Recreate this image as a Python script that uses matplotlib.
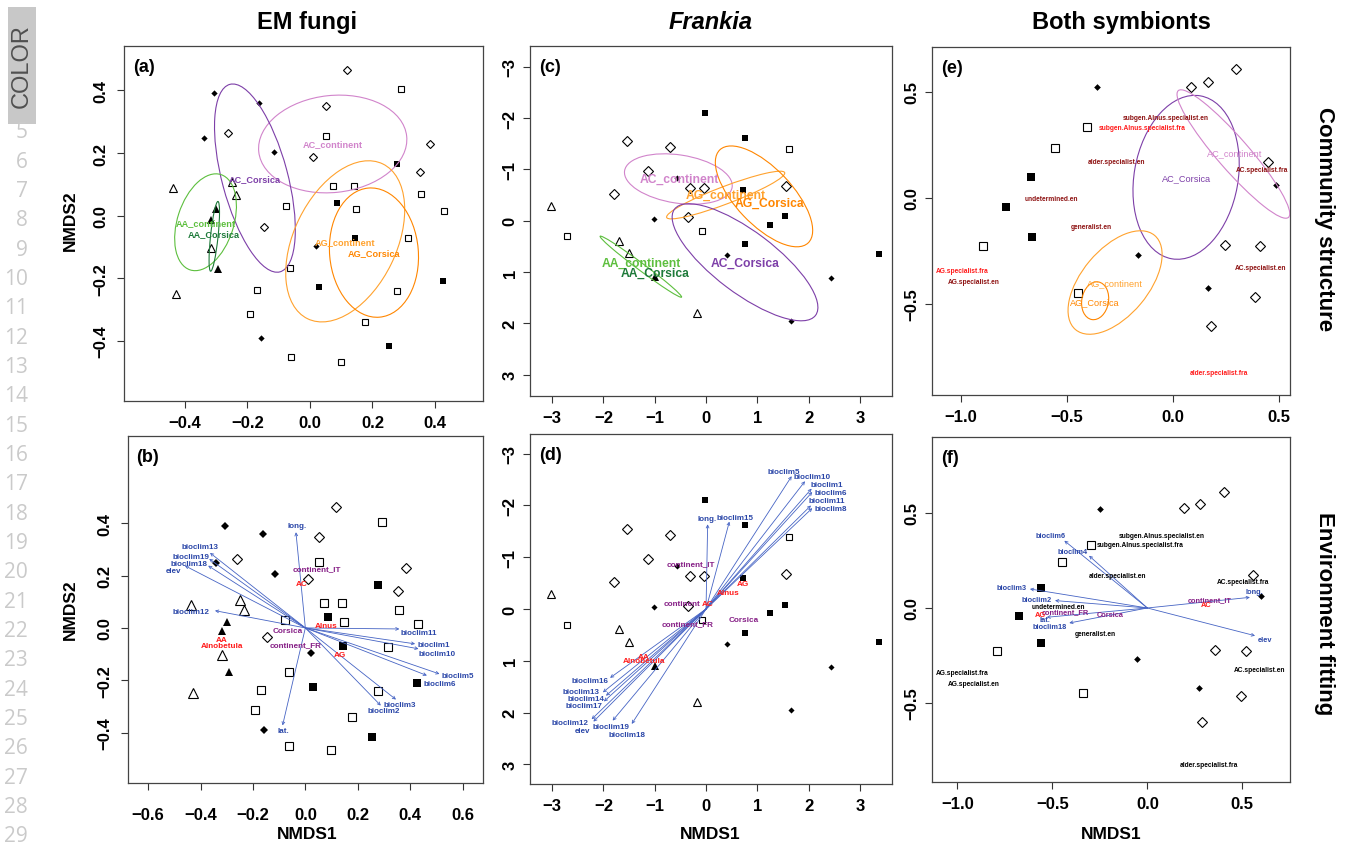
import matplotlib
matplotlib.use("Agg")
import matplotlib.pyplot as plt
from matplotlib.patches import Ellipse, Rectangle

plt.rcParams['font.family'] = ['Liberation Sans', 'DejaVu Sans']

# ---------------- DATA ----------------
# EM fungi ordination (panels a, b)
em_AA_continent = [(-0.437, 0.088), (-0.249, 0.107), (-0.235, 0.067), (-0.317, -0.103), (-0.428, -0.249)]
em_AA_Corsica = [(-0.300, 0.022), (-0.318, -0.013), (-0.293, -0.170)]
em_AC_continent = [(0.118, 0.464), (0.053, 0.349), (-0.262, 0.263), (0.011, 0.187), (0.383, 0.230),
                   (0.352, 0.140), (-0.146, -0.035)]
em_AC_Corsica = [(-0.308, 0.391), (-0.162, 0.361), (-0.340, 0.247), (-0.114, 0.205), (0.021, -0.096),
                 (-0.158, -0.390)]
em_AG_continent = [(0.293, 0.405), (0.053, 0.253), (0.073, 0.095), (0.141, 0.096), (0.357, 0.068),
                   (-0.078, 0.031), (0.146, 0.021), (0.430, 0.014), (0.315, -0.072), (-0.064, -0.168),
                   (-0.170, -0.239), (0.278, -0.242), (-0.192, -0.314), (0.177, -0.339), (-0.061, -0.451),
                   (0.098, -0.466)]
em_AG_Corsica = [(0.278, 0.164), (0.087, 0.042), (0.145, -0.070), (0.030, -0.227), (0.427, -0.209),
                 (0.254, -0.416)]
# ellipses: name, centre x, centre y, semi-major, semi-minor, angle (deg)
em_ell_names = ['AC_continent', 'AC_Corsica', 'AA_continent', 'AA_Corsica', 'AG_continent', 'AG_Corsica']
em_ell_cx = [0.073, -0.176, -0.334, -0.306, 0.113, 0.205]
em_ell_cy = [0.229, 0.120, -0.021, -0.066, -0.082, -0.118]
em_ell_a = [0.238, 0.310, 0.160, 0.112, 0.275, 0.207]
em_ell_b = [0.155, 0.105, 0.090, 0.012, 0.164, 0.142]
em_ell_ang = [6, 105, 72, 84, 64, 95]
em_lab_x = [0.073, -0.176, -0.334, -0.309, 0.113, 0.205]
em_lab_y = [0.229, 0.120, -0.021, -0.056, -0.082, -0.119]
# envfit (panel b)
em_vec_names = ['long.', 'bioclim13', 'bioclim19', 'bioclim18', 'elev', 'bioclim12', 'lat.', 'bioclim11',
                'bioclim1', 'bioclim10', 'bioclim5', 'bioclim6', 'bioclim3', 'bioclim2']
em_vec_x = [-0.036, -0.364, -0.367, -0.371, -0.460, -0.345, -0.087, 0.359, 0.419, 0.432, 0.512, 0.464, 0.346, 0.288]
em_vec_y = [0.366, 0.287, 0.264, 0.238, 0.238, 0.066, -0.373, -0.004, -0.061, -0.080, -0.176, -0.182, -0.274, -0.297]
em_vlab_x = [-0.033, -0.403, -0.438, -0.445, -0.504, -0.437, -0.084, 0.432, 0.489, 0.502, 0.581, 0.512, 0.359, 0.298]
em_vlab_y = [0.391, 0.312, 0.273, 0.248, 0.219, 0.062, -0.392, -0.017, -0.064, -0.099, -0.182, -0.214, -0.293, -0.317]
em_fac_names = ['continent_IT', 'Corsica', 'continent_FR']
em_fac_x = [0.043, -0.069, -0.036]
em_fac_y = [0.225, -0.008, -0.064]
em_host_names = ['AC', 'Alnus', 'AG', 'AA', 'Alnobetula']
em_host_x = [-0.014, 0.079, 0.132, -0.320, -0.320]
em_host_y = [0.171, 0.011, -0.101, -0.045, -0.068]

# Frankia ordination (panels c, d)
fr_AA_continent = [(-3.026, -0.292), (-1.688, 0.390), (-1.506, 0.636), (-0.169, 1.799)]
fr_AA_Corsica = [(-0.994, 1.104)]
fr_AC_continent = [(-1.539, -1.552), (-0.708, -1.429), (-1.123, -0.968), (-1.786, -0.513), (-0.305, -0.636),
                   (-0.039, -0.643), (-0.344, -0.065), (1.558, -0.682)]
fr_AC_Corsica = [(-1.013, -0.032), (-0.571, -0.825), (0.403, 0.675), (2.442, 1.117), (1.649, 1.948)]
fr_AG_continent = [(1.610, -1.400), (-2.708, 0.305), (-0.071, 0.208)]
fr_AG_Corsica = [(-0.013, -2.100), (0.766, -1.620), (0.721, -0.600), (1.253, 0.078), (1.545, -0.084),
                 (0.753, 0.455), (3.377, 0.643)]
fr_ell_names = ['AC_continent', 'AG_continent', 'AG_Corsica', 'AC_Corsica', 'AA_continent']
fr_ell_cx = [-0.539, 0.383, 1.130, 0.760, -1.270]
fr_ell_cy = [-0.812, -0.500, -0.474, 0.810, 0.896]
fr_ell_a = [1.06, 1.23, 1.25, 1.72, 0.99]
fr_ell_b = [0.47, 0.17, 0.55, 0.60, 0.07]
fr_ell_ang = [8.7, -20.8, 46.5, 37.0, 36.8]
fr_lab_names = ['AC_continent', 'AG_continent', 'AG_Corsica', 'AC_Corsica', 'AA_continent', 'AA_Corsica']
fr_lab_x = [-0.526, 0.383, 1.234, 0.760, -1.253, -0.994]
fr_lab_y = [-0.812, -0.500, -0.344, 0.812, 0.812, 1.006]
fr_vec_names = ['bioclim5', 'bioclim10', 'bioclim1', 'bioclim6', 'bioclim11', 'bioclim8', 'long.', 'bioclim15',
                'bioclim16', 'bioclim13', 'bioclim14', 'bioclim17', 'bioclim12', 'elev', 'bioclim19', 'bioclim18']
fr_vec_x = [1.669, 1.929, 2.058, 2.071, 2.045, 2.071, 0.032, 0.455, -1.870, -2.010, -1.950, -1.990, -2.230, -2.195, -1.820, -1.448]
fr_vec_y = [-2.565, -2.468, -2.325, -2.260, -2.000, -1.948, -1.636, -1.688, 1.330, 1.610, 1.675, 1.786, 2.130, 2.175, 2.156, 2.220]
fr_vlab_x = [1.52, 2.07, 2.35, 2.43, 2.35, 2.43, 0.013, 0.565, -2.26, -2.44, -2.34, -2.37, -2.66, -2.40, -1.85, -1.53]
fr_vlab_y = [-2.66, -2.55, -2.40, -2.25, -2.09, -1.94, -1.74, -1.77, 1.38, 1.59, 1.73, 1.86, 2.19, 2.35, 2.26, 2.42]
fr_fac_names = ['continent_IT', 'continent', 'continent_FR', 'Corsica']
fr_fac_x = [-0.292, -0.461, -0.364, 0.727]
fr_fac_y = [-0.877, -0.110, 0.292, 0.208]
fr_host_names = ['AG', 'Alnus', 'AC', 'AA', 'Alnobetula']
fr_host_x = [0.727, 0.435, 0.032, -1.208, -1.208]
fr_host_y = [-0.487, -0.312, -0.110, 0.909, 0.987]

# Both symbionts (panel e)
bo_AC_continent = [(0.086, 0.520), (0.165, 0.547), (0.296, 0.608), (0.447, 0.170), (0.248, -0.223),
                   (0.412, -0.228), (0.388, -0.467), (0.179, -0.607)]
bo_AC_Corsica = [(-0.355, 0.520), (0.487, 0.060), (-0.162, -0.272), (0.164, -0.425)]
bo_AG_continent = [(-0.404, 0.333), (-0.553, 0.236), (-0.893, -0.228), (-0.448, -0.451)]
bo_AG_Corsica = [(-0.668, 0.099), (-0.785, -0.044), (-0.665, -0.187)]
bo_ell_names = ['AC_Corsica', 'AC_continent', 'AG_continent', 'AG_Corsica']
bo_ell_cx = [0.063, 0.286, -0.272, -0.366]
bo_ell_cy = [0.096, 0.206, -0.400, -0.486]
bo_ell_a = [0.390, 0.396, 0.290, 0.090]
bo_ell_b = [0.245, 0.075, 0.157, 0.063]
bo_ell_ang = [80, -49, 50, 80]
bo_lab_x = [0.063, 0.291, -0.272, -0.366]
bo_lab_y = [0.093, 0.211, -0.403, -0.491]
bo_sp_names = ['subgen.Alnus.specialist.en', 'subgen.Alnus.specialist.fra', 'alder.specialist.en',
               'AC.specialist.fra', 'undetermined.en', 'generalist.en', 'AC.specialist.en',
               'AG.specialist.fra', 'AG.specialist.en', 'alder.specialist.fra']
bo_sp_x = [-0.033, -0.146, -0.264, 0.420, -0.574, -0.382, 0.412, -0.995, -0.937, 0.220]
bo_sp_y = [0.379, 0.333, 0.170, 0.134, -0.006, -0.135, -0.330, -0.341, -0.393, -0.824]
bo_sp_red = [False, True, False, False, False, False, False, True, False, True]

# Both symbionts, environment fitting (panel f)
bf_AC_continent = [(0.193, 0.525), (0.277, 0.547), (0.404, 0.612), (0.554, 0.174), (0.358, -0.219),
                   (0.519, -0.228), (0.495, -0.465), (0.288, -0.602)]
bf_AC_Corsica = [(-0.249, 0.521), (0.596, 0.061), (-0.053, -0.268), (0.272, -0.421)]
bf_AG_continent = [(-0.296, 0.333), (-0.447, 0.240), (-0.789, -0.228), (-0.340, -0.447)]
bf_AG_Corsica = [(-0.558, 0.104), (-0.675, -0.040), (-0.558, -0.184)]
bf_sp_x = [0.075, -0.039, -0.156, 0.505, -0.468, -0.275, 0.593, -0.977, -0.912, 0.326]
bf_sp_y = [0.381, 0.333, 0.170, 0.139, 0.007, -0.132, -0.325, -0.339, -0.396, -0.821]
bf_vec_names = ['bioclim6', 'bioclim4', 'bioclim3', 'bioclim2', 'lat.', 'bioclim18', 'long.', 'elev']
bf_vec_x = [-0.437, -0.307, -0.618, -0.486, -0.530, -0.411, 0.540, 0.567]
bf_vec_y = [0.354, 0.275, 0.100, 0.039, -0.049, -0.079, 0.056, -0.146]
bf_vlab_x = [-0.507, -0.395, -0.712, -0.582, -0.539, -0.512, 0.561, 0.619]
bf_vlab_y = [0.381, 0.298, 0.109, 0.047, -0.063, -0.096, 0.088, -0.167]
bf_fac_names = ['continent_IT', 'continent_FR', 'Corsica']
bf_fac_x = [0.326, -0.430, -0.193]
bf_fac_y = [0.042, -0.019, -0.032]
bf_host_names = ['AC', 'AG']
bf_host_x = [0.312, -0.565]
bf_host_y = [0.018, -0.032]

# ---------------- STYLE ----------------
COL = {'AC_continent': '#D184CB', 'AC_Corsica': '#7D3FA8', 'AA_continent': '#5DBF3E',
       'AA_Corsica': '#1E7A3A', 'AG_continent': '#FFA22E', 'AG_Corsica': '#FF8600'}
BLUE_ARROW = '#4664C4'
BLUE_TXT = '#2A46A8'
PURPLE_TXT = '#861F86'
RED_TXT = '#FF1A1A'
DARKRED_TXT = '#8E1212'

W, H = 1347, 845
fig = plt.figure(figsize=(W / 100, H / 100), dpi=100)


def add_ax(l, t, r, b):
    return fig.add_axes([l / W, 1 - b / H, (r - l) / W, (b - t) / H])


def fmt(v, nd):
    s = f"{v:.{nd}f}" if nd > 0 else f"{int(round(v))}"
    return s.replace('-', '\u2212')


def style(ax, xlim, ylim, xt, yt, nd, xpad, ypad):
    ax.set_xlim(xlim)
    ax.set_ylim(ylim)
    ax.set_xticks(xt, [fmt(v, nd) for v in xt], fontweight='bold', fontsize=12)
    ax.set_yticks(yt, [fmt(v, nd) for v in yt], fontweight='bold', fontsize=12, rotation=90, va='center')
    ax.tick_params(axis='x', direction='out', length=5, width=0.8, color='#333333', pad=xpad)
    ax.tick_params(axis='y', direction='out', length=5, width=0.8, color='#333333', pad=ypad)
    for s in ax.spines.values():
        s.set_linewidth(0.9)
        s.set_color('#444444')


def pts(ax, data, kind, sizes):
    xs = [p[0] for p in data]
    ys = [p[1] for p in data]
    marker = {'otri': '^', 'ftri': '^', 'odia': 'D', 'fdia': 'D', 'osq': 's', 'fsq': 's'}[kind]
    filled = kind.startswith('f')
    ax.plot(xs, ys, ls='none', marker=marker, ms=sizes[kind],
            mfc='black' if filled else 'none', mec='black', mew=0 if filled else 0.8, zorder=3)


def ellipses(ax, names, cx, cy, a, b, ang, lw=0.8):
    for n, x, y, aa, bb, an in zip(names, cx, cy, a, b, ang):
        ax.add_patch(Ellipse((x, y), 2 * aa, 2 * bb, angle=an, fill=False, ec=COL[n], lw=lw, zorder=4))


def arrows(ax, xs, ys):
    for x, y in zip(xs, ys):
        ax.annotate('', xy=(x, y), xytext=(0, 0),
                    arrowprops=dict(arrowstyle='->', color=BLUE_ARROW, lw=0.6, shrinkA=0, shrinkB=0,
                                    mutation_scale=5), zorder=4)


def labels(ax, names, xs, ys, color, size, weight='bold'):
    for n, x, y in zip(names, xs, ys):
        c = COL[n] if color == 'ell' else color
        ax.text(x, y, n, color=c, fontsize=size, fontweight=weight, ha='center', va='center', zorder=5)


size_a = {'otri': 6.2, 'ftri': 5.6, 'odia': 4.5, 'fdia': 3.2, 'osq': 4.3, 'fsq': 4.8}
size_b = {'otri': 7.0, 'ftri': 6.2, 'odia': 5.6, 'fdia': 3.8, 'osq': 6.0, 'fsq': 6.0}
size_c = {'otri': 6.0, 'ftri': 5.2, 'odia': 4.6, 'fdia': 3.1, 'osq': 4.3, 'fsq': 5.0}
size_e = {'otri': 6.0, 'ftri': 5.2, 'odia': 5.4, 'fdia': 3.4, 'osq': 5.4, 'fsq': 5.4}


def em_points(ax, sz):
    pts(ax, em_AA_continent, 'otri', sz)
    pts(ax, em_AA_Corsica, 'ftri', sz)
    pts(ax, em_AC_continent, 'odia', sz)
    pts(ax, em_AC_Corsica, 'fdia', sz)
    pts(ax, em_AG_continent, 'osq', sz)
    pts(ax, em_AG_Corsica, 'fsq', sz)


def fr_points(ax, sz):
    pts(ax, fr_AA_continent, 'otri', sz)
    pts(ax, fr_AA_Corsica, 'ftri', sz)
    pts(ax, fr_AC_continent, 'odia', sz)
    pts(ax, fr_AC_Corsica, 'fdia', sz)
    pts(ax, fr_AG_continent, 'osq', sz)
    pts(ax, fr_AG_Corsica, 'fsq', sz)


def panel_tag(ax, s):
    ax.text(0.025, 0.965, s, transform=ax.transAxes, fontsize=13, fontweight='bold', ha='left', va='top')


t1 = [-0.4, -0.2, 0.0, 0.2, 0.4]
t2 = [-0.6, -0.4, -0.2, 0.0, 0.2, 0.4, 0.6]
t3 = [-3, -2, -1, 0, 1, 2, 3]
t4 = [-1.0, -0.5, 0.0, 0.5]
t5 = [-0.5, 0.0, 0.5]

# ---- (a)
ax = add_ax(124, 46.7, 483, 402.3)
style(ax, (-0.595, 0.554), (-0.593, 0.543), t1, t1, 1, 5, 6)
em_points(ax, size_a)
ellipses(ax, em_ell_names, em_ell_cx, em_ell_cy, em_ell_a, em_ell_b, em_ell_ang)
labels(ax, em_ell_names, em_lab_x, em_lab_y, 'ell', 6.6)
panel_tag(ax, '(a)')

# ---- (b)
ax = add_ax(127.7, 436.7, 483, 784)
style(ax, (-0.678, 0.678), (-0.593, 0.735), t2, t1, 1, 12, 6)
em_points(ax, size_b)
arrows(ax, em_vec_x, em_vec_y)
labels(ax, em_vec_names, em_vlab_x, em_vlab_y, BLUE_TXT, 5.8)
labels(ax, em_fac_names, em_fac_x, em_fac_y, PURPLE_TXT, 5.9)
labels(ax, em_host_names, em_host_x, em_host_y, RED_TXT, 5.9)
panel_tag(ax, '(b)')

# ---- (c)
ax = add_ax(530, 46.7, 892.3, 396.7)
style(ax, (-3.43, 3.63), (3.41, -3.41), t3, t3, 0, 5, 4)
fr_points(ax, size_c)
ellipses(ax, fr_ell_names, fr_ell_cx, fr_ell_cy, fr_ell_a, fr_ell_b, fr_ell_ang)
labels(ax, fr_lab_names, fr_lab_x, fr_lab_y, 'ell', 8.7)
panel_tag(ax, '(c)')

# ---- (d)
ax = add_ax(530, 435, 892.3, 785)
style(ax, (-3.43, 3.63), (3.38, -3.38), t3, t3, 0, 5, 4)
fr_points(ax, size_c)
arrows(ax, fr_vec_x, fr_vec_y)
labels(ax, fr_vec_names, fr_vlab_x, fr_vlab_y, BLUE_TXT, 5.8)
labels(ax, fr_fac_names, fr_fac_x, fr_fac_y, PURPLE_TXT, 5.9)
labels(ax, fr_host_names, fr_host_x, fr_host_y, RED_TXT, 5.9)
panel_tag(ax, '(d)')

# ---- (e)
ax = add_ax(932.3, 47.7, 1290, 395.7)
style(ax, (-1.134, 0.553), (-0.929, 0.712), t4, t5, 1, 5, 4)
pts(ax, bo_AC_continent, 'odia', size_e)
pts(ax, bo_AC_Corsica, 'fdia', size_e)
pts(ax, bo_AG_continent, 'osq', size_e)
pts(ax, bo_AG_Corsica, 'fsq', size_e)
ellipses(ax, bo_ell_names, bo_ell_cx, bo_ell_cy, bo_ell_a, bo_ell_b, bo_ell_ang)
labels(ax, bo_ell_names, bo_lab_x, bo_lab_y, 'ell', 6.6, weight='normal')
for n, x, y, r in zip(bo_sp_names, bo_sp_x, bo_sp_y, bo_sp_red):
    ax.text(x, y, n, color=RED_TXT if r else DARKRED_TXT, fontsize=4.8, fontweight='bold',
            ha='center', va='center', zorder=5)
panel_tag(ax, '(e)')

# ---- (f)
ax = add_ax(932.3, 438.3, 1290, 782.7)
style(ax, (-1.132, 0.751), (-0.914, 0.898), t4, t5, 1, 5, 4)
pts(ax, bf_AC_continent, 'odia', size_e)
pts(ax, bf_AC_Corsica, 'fdia', size_e)
pts(ax, bf_AG_continent, 'osq', size_e)
pts(ax, bf_AG_Corsica, 'fsq', size_e)
arrows(ax, bf_vec_x, bf_vec_y)
for n, x, y in zip(bo_sp_names, bf_sp_x, bf_sp_y):
    ax.text(x, y, n, color='black', fontsize=4.8, fontweight='bold', ha='center', va='center', zorder=5)
labels(ax, bf_vec_names, bf_vlab_x, bf_vlab_y, BLUE_TXT, 5.3)
labels(ax, bf_fac_names, bf_fac_x, bf_fac_y, PURPLE_TXT, 5.3)
labels(ax, bf_host_names, bf_host_x, bf_host_y, RED_TXT, 5.3)
panel_tag(ax, '(f)')

# ---- titles and axis labels
fig.text(307 / W, 1 - 22.5 / H, 'EM fungi', ha='center', va='center', fontsize=17, fontweight='bold')
fig.text(711 / W, 1 - 22.5 / H, 'Frankia', ha='center', va='center', fontsize=17, fontweight='bold',
         style='italic')
fig.text(1121 / W, 1 - 22.5 / H, 'Both symbionts', ha='center', va='center', fontsize=17, fontweight='bold')
fig.text(1325 / W, 1 - 219.5 / H, 'Community structure', rotation=-90, ha='center', va='center',
         fontsize=16, fontweight='bold')
fig.text(1324 / W, 1 - 614 / H, 'Environment fitting', rotation=-90, ha='center', va='center',
         fontsize=16, fontweight='bold')
for yy in (221, 610):
    fig.text(70.5 / W, 1 - yy / H, 'NMDS2', rotation=90, ha='center', va='center', fontsize=12.5,
             fontweight='bold')
for xx in (307, 710, 1111):
    fig.text(xx / W, 1 - 835 / H, 'NMDS1', ha='center', va='center', fontsize=12.5, fontweight='bold')

# ---- left margin (page annotations)
fig.patches.append(Rectangle((8 / W, 1 - 125 / H), 28 / W, 117 / H, transform=fig.transFigure,
                             facecolor='#C8C8C8', edgecolor='none'))
fig.text(22 / W, 1 - 66 / H, 'COLOR', rotation=90, ha='center', va='center', fontsize=17, color='#505050')
for i, n in enumerate(range(5, 30)):
    y = 133 + i * 29.33
    fig.text(28 / W, 1 - y / H, str(n), ha='right', va='center', fontsize=15, color='#CACACA',
             family=['Open Sans', 'DejaVu Sans'])

fig.savefig('out.png', dpi=100)
